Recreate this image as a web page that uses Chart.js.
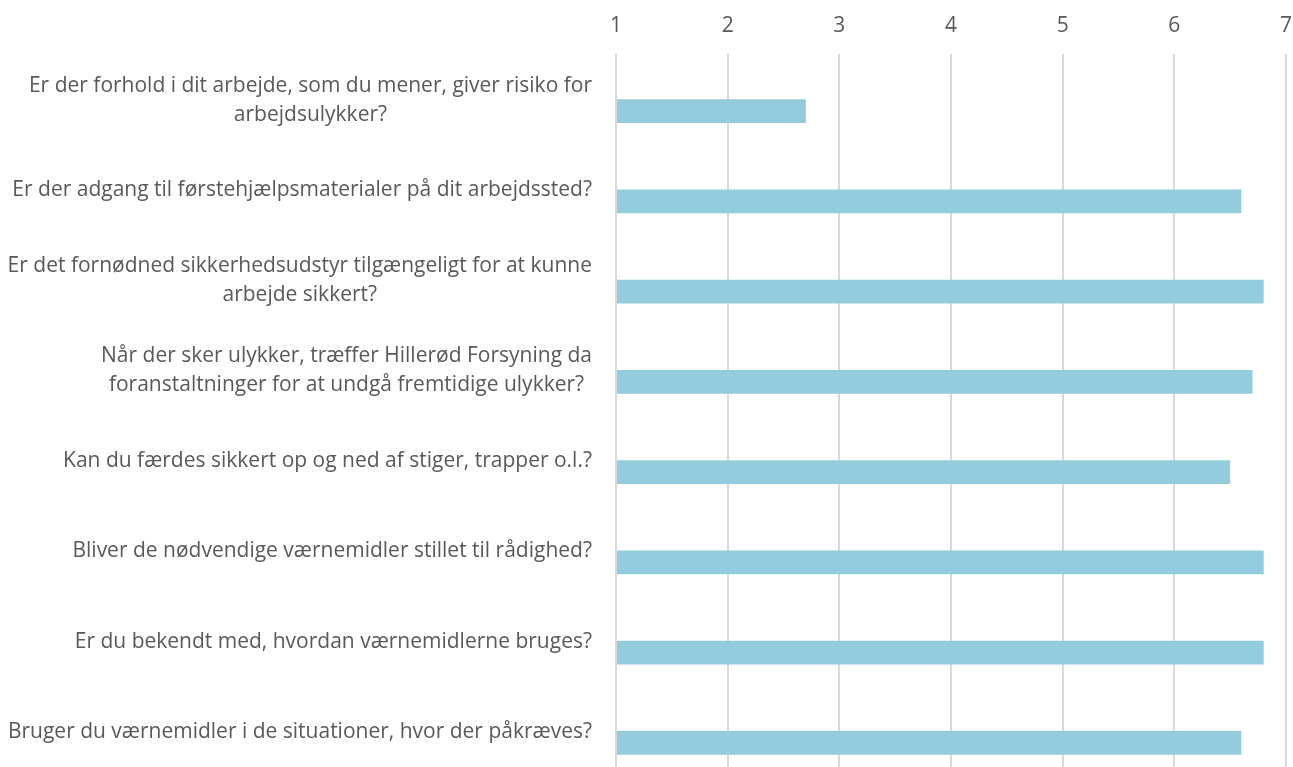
<!DOCTYPE html>
<html>
<head>
<meta charset="utf-8">
<script src="https://cdn.jsdelivr.net/npm/chart.js@4.4.1/dist/chart.umd.min.js"></script>
<style>
  html, body { margin: 0; padding: 0; background: #fff; overflow: hidden; }
  #wrap { width: 1293px; height: 776px; }
</style>
</head>
<body>
<div id="wrap"><canvas id="chart" width="1293" height="776"></canvas></div>
<script>
// Spørgsmål (kategorier) – flere linjer hvor Excel brød teksten
const categories = [
  ['Er der forhold i dit arbejde, som du mener, giver risiko for', 'arbejdsulykker?'],
  ['Er der adgang til førstehjælpsmaterialer på dit arbejdssted?'],
  ['Er det fornødned sikkerhedsudstyr tilgængeligt for at kunne', 'arbejde sikkert?'],
  ['Når der sker ulykker, træffer Hillerød Forsyning da', 'foranstaltninger for at undgå fremtidige ulykker?'],
  ['Kan du færdes sikkert op og ned af stiger, trapper o.l.?'],
  ['Bliver de nødvendige værnemidler stillet til rådighed?'],
  ['Er du bekendt med, hvordan værnemidlerne bruges?'],
  ['Bruger du værnemidler i de situationer, hvor der påkræves?'],
];
const scores = [2.7, 6.6, 6.8, 6.7, 6.5, 6.8, 6.8, 6.6];
const emptySeries = categories.map(() => null);
const axisMin = 1, axisMax = 7;

const FONT = '"Open Sans", sans-serif';
const TXT = '#595959';

// Kategoritekster: linjerne centreres i forhold til hinanden, blokken højrestilles
const catLabels = {
  id: 'catLabels',
  afterDraw(chart) {
    const { ctx } = chart;
    const y = chart.scales.y;
    const right = chart.chartArea.left - 24;
    const lh = 29;
    ctx.save();
    ctx.font = '21px ' + FONT;
    ctx.fillStyle = TXT;
    ctx.textAlign = 'center';
    ctx.textBaseline = 'middle';
    categories.forEach((lines, i) => {
      const w = Math.max(...lines.map(l => ctx.measureText(l).width));
      const cx = right - w / 2;
      const cy = y.getPixelForTick(i) + 1;
      lines.forEach((l, j) => ctx.fillText(l, cx, cy + (j - (lines.length - 1) / 2) * lh));
    });
    ctx.restore();
  }
};

new Chart(document.getElementById('chart'), {
  type: 'bar',
  data: {
    labels: categories,
    datasets: [
      { data: emptySeries, backgroundColor: '#93cddd', base: axisMin },
      { data: scores, backgroundColor: '#93cddd', base: axisMin },
    ],
  },
  options: {
    indexAxis: 'y',
    responsive: false,
    animation: false,
    layout: { padding: { top: 0, right: 7, left: 0, bottom: 0 } },
    datasets: { bar: { categoryPercentage: 0.53, barPercentage: 1.0 } },
    plugins: { legend: { display: false }, tooltip: { enabled: false } },
    scales: {
      x: {
        position: 'top',
        min: axisMin, max: axisMax,
        ticks: { stepSize: 1, color: TXT, font: { family: FONT, size: 21 }, padding: 15 },
        grid: { color: '#d9d9d9', lineWidth: 2, drawTicks: false },
        border: { display: false },
        afterFit(scale) {
          scale.height = 54;
          scale.paddingLeft = 0;
          scale.paddingRight = 0;
        },
      },
      y: {
        ticks: { display: false },
        grid: { display: false },
        border: { display: false },
        afterFit(scale) { scale.width = 616; },
      },
    },
  },
  plugins: [catLabels],
});
</script>
</body>
</html>
